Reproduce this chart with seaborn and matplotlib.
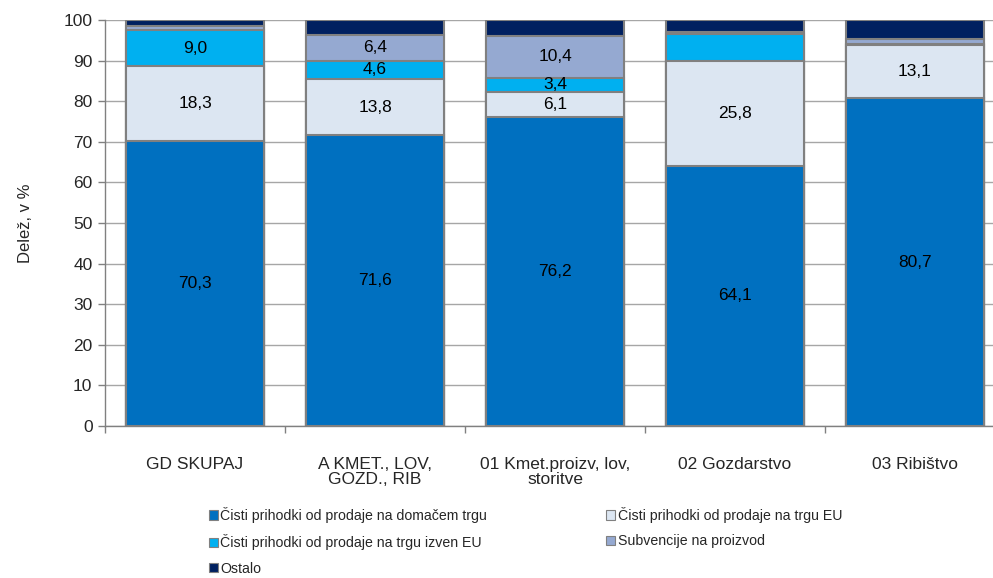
import matplotlib
matplotlib.use("Agg")
import matplotlib.pyplot as plt
import seaborn as sns
import numpy as np
import pandas as pd
from matplotlib.patches import Patch

categories = ["GD SKUPAJ", "A KMET., LOV,\nGOZD., RIB", "01 Kmet.proizv, lov,\nstoritve", "02 Gozdarstvo", "03 Ribištvo"]
series_names = ["Čisti prihodki od prodaje na domačem trgu",
                "Čisti prihodki od prodaje na trgu EU",
                "Čisti prihodki od prodaje na trgu izven EU",
                "Subvencije na proizvod",
                "Ostalo"]
domaci = [70.3, 71.6, 76.2, 64.1, 80.7]
eu = [18.3, 13.8, 6.1, 25.8, 13.1]
izven_eu = [9.0, 4.6, 3.4, 6.6, 0.3]
subvencije = [0.9, 6.4, 10.4, 0.6, 1.1]
ostalo = [1.5, 3.6, 3.9, 2.9, 4.8]
labels_shown = [
    ["70,3", "71,6", "76,2", "64,1", "80,7"],
    ["18,3", "13,8", "6,1", "25,8", "13,1"],
    ["9,0", "4,6", "3,4", "", ""],
    ["", "6,4", "10,4", "", ""],
    ["", "", "", "", ""],
]
colors = ["#0070C0", "#DCE6F2", "#00B0F0", "#95A9D1", "#002060"]

sns.set_theme(style="white")
plt.rcParams["font.family"] = ["Liberation Sans", "DejaVu Sans"]

fig = plt.figure(figsize=(9.93, 5.78), dpi=100)
ax = fig.add_axes([105/993, 1-426/578, (993-105)/993, (426-20)/578])

data = np.array([domaci, eu, izven_eu, subvencije, ostalo])
cum = np.cumsum(data, axis=0)
bottoms = cum - data

for i in range(len(series_names) - 1, -1, -1):
    df = pd.DataFrame({"cat": categories, "val": cum[i]})
    sns.barplot(data=df, x="cat", y="val", color=colors[i], saturation=1,
                width=0.77, edgecolor="#808080", linewidth=1.5, ax=ax, zorder=3)

for i in range(len(series_names)):
    for j in range(len(categories)):
        lab = labels_shown[i][j]
        if lab:
            ax.text(j, bottoms[i, j] + data[i, j] / 2, lab, ha="center", va="center",
                    fontsize=12.5, color="black", zorder=5)

ax.set_ylim(0, 100)
ax.set_xlim(-0.5, -0.5 + (993 - 105) / 180)
ax.set_yticks(range(0, 101, 10))
ax.yaxis.grid(True, color="#A6A6A6", linewidth=1, zorder=0)
ax.set_axisbelow(True)
ax.set_xticks(range(len(categories)))
ax.set_xticklabels(categories, fontsize=12.5, linespacing=1.05)
ax.set_xticks(np.arange(-0.5, 4.5, 1), minor=True)
ax.tick_params(axis="x", which="major", length=0, pad=22)
ax.tick_params(axis="x", which="minor", length=5, color="#808080", width=1, bottom=True)
ax.tick_params(axis="y", length=5, color="#808080", width=1, left=True, labelsize=12.5, pad=4)
ax.set_xlabel("")
ax.set_ylabel("Delež, v %", fontsize=12, labelpad=22)
for s in ["top", "right"]:
    ax.spines[s].set_visible(False)
for s in ["left", "bottom"]:
    ax.spines[s].set_color("#808080")
    ax.spines[s].set_linewidth(1)

order = [0, 2, 4, 1, 3]
handles = [Patch(facecolor=colors[k], edgecolor="#808080", linewidth=0.8, label=series_names[k]) for k in order]
fig.legend(handles=handles, loc="upper left", bbox_to_anchor=(209/993, 1 - 507/578), ncol=2,
           frameon=False, fontsize=10.2, handlelength=0.65, handleheight=0.65, handletextpad=0.15,
           columnspacing=8.4, labelspacing=0.8, borderaxespad=0, borderpad=0)

fig.savefig("out.png", dpi=100)
